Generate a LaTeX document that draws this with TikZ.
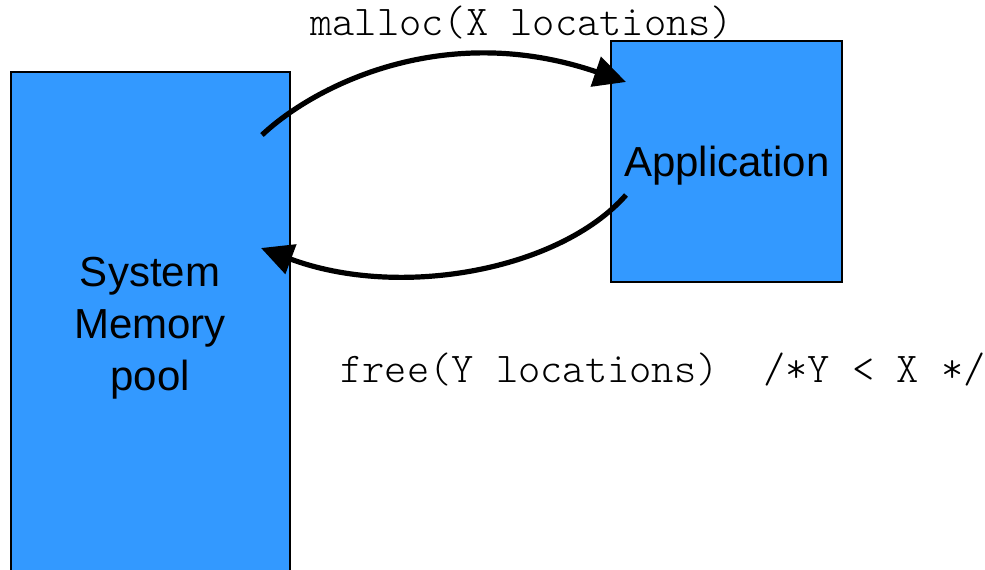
\documentclass[tikz,border=0pt]{standalone}
\usepackage{fontspec}
\setmainfont{Liberation Sans}
\newfontfamily\monolight{Latin Modern Mono Light}
\usetikzlibrary{arrows.meta,fit}
\definecolor{boxblue}{HTML}{3399FF}
\tikzset{
  bluebox/.style={draw=black, line width=1.1pt, fill=boxblue, inner sep=0pt},
  bigtext/.style={font=\fontsize{31.5pt}{39pt}\selectfont, align=center, inner sep=0pt},
  codetext/.style={font=\monolight\fontsize{31.8pt}{36pt}\selectfont, inner sep=0pt},
  flow/.style={line width=3.9pt, -{Triangle[length=24pt,width=23pt]}}
}
\begin{document}
\begin{tikzpicture}[x=0.75pt,y=-0.75pt]
\useasboundingbox (0,0) rectangle (985,569);
\clip (0,0) rectangle (985,569);
\node[bluebox, fit={(11,72) (290,600)}] (pool) {};
\node[bluebox, fit={(611,41) (842,282)}] (app) {};
\node[bigtext] (pooltext) at (150,328) {System\\Memory\\pool};
\node[bigtext] (apptext) at (727,166) {Application};
\node[codetext, anchor=west] (malloc) at (310,23) {malloc(X locations)};
\node[codetext, anchor=west] (free) at (340,370) {free(Y locations)\ \ /*Y < X */};
\coordinate (m1) at (262,135);
\coordinate (m2) at (626,82);
\coordinate (f1) at (626,195);
\coordinate (f2) at (261,248);
\draw[flow] (m1) .. controls (315,85) and (445,20) .. (m2);
\draw[flow] (f1) .. controls (560,270) and (400,300) .. (f2);
\end{tikzpicture}
\end{document}
